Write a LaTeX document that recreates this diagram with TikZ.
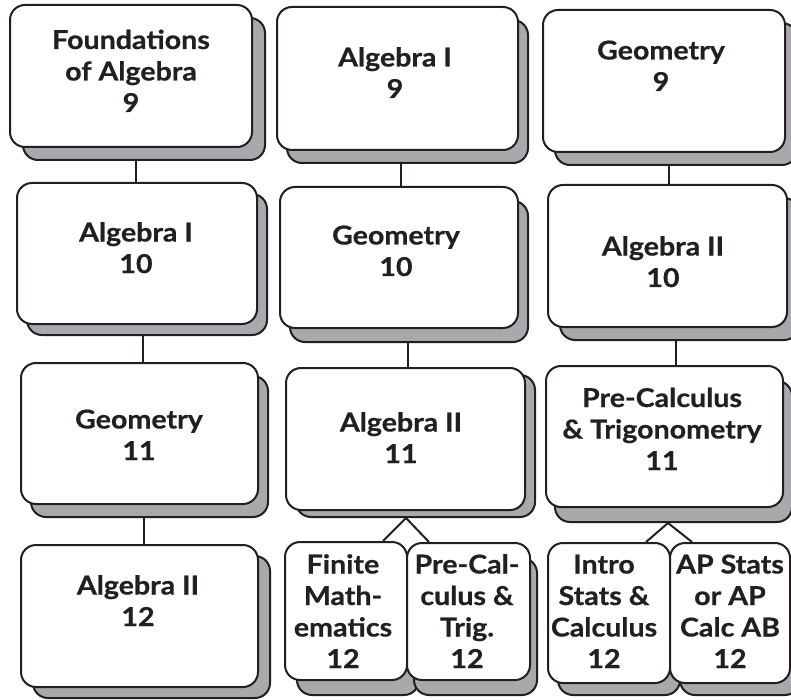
\documentclass[tikz,border=0pt]{standalone}
\usepackage{fontspec}
\setmainfont{Lato}[FakeStretch=1.1,BoldFeatures={FakeBold=0.6}]
\usetikzlibrary{calc}
\definecolor{ink}{HTML}{231F20}
\definecolor{shadowgray}{HTML}{A7A9AC}
\tikzset{
  front box/.style={draw=ink, line width=2pt, fill=white, rounded corners=15pt, inner sep=0pt},
  shade box/.style={draw=ink, line width=2pt, fill=shadowgray, rounded corners=15pt, inner sep=0pt},
  conn/.style={draw=ink, line width=2pt},
  lbl/.style={text=ink, font=\fontsize{26}{31.5}\selectfont\bfseries, align=center, anchor=base, inner sep=0pt},
}
\newcommand\crsbox[7]{% name x1 y1 x2 y2 dx dy
  \pgfmathsetmacro\cbw{#4-#2}\pgfmathsetmacro\cbh{#5-#3}%
  \pgfmathsetmacro\cbx{(#2+#4)/2}\pgfmathsetmacro\cby{(#3+#5)/2}%
  \node[shade box, minimum width=\cbw pt, minimum height=\cbh pt] (#1s) at ({\cbx+#6},{\cby+#7}) {};
  \node[front box, minimum width=\cbw pt, minimum height=\cbh pt] (#1) at (\cbx,\cby) {};
}
\begin{document}
\begin{tikzpicture}[x=1pt,y=-1pt]
\useasboundingbox (0,0) rectangle (791,700);
\fill[white] (0,0) rectangle (791,700);
\clip (0,0) rectangle (791,700);
% column 1
\crsbox{A}{10}{5}{252}{147}{13}{13}
\crsbox{B}{17}{183}{257}{324}{10}{11}
\crsbox{C}{21}{363}{258}{504}{10}{13}
\crsbox{D}{21}{545}{258}{687}{12}{11}
% column 2
\crsbox{E}{277}{7}{518}{150}{10}{13}
\crsbox{F}{280}{187}{518}{328}{10}{14}
\crsbox{G}{286}{368}{525}{510}{10}{7}
\crsbox{H}{285}{542}{407}{680}{12}{15}
\crsbox{I}{407}{543}{530}{680}{7}{15}
% column 3
\crsbox{J}{543}{10}{785}{152}{12}{13}
\crsbox{K}{548}{185}{787}{327}{12}{13}
\crsbox{L}{546}{366}{783}{507}{9}{15}
\crsbox{M}{548}{543}{670}{683}{10}{12}
\crsbox{N}{670}{543}{790}{683}{10}{12}
% labels (anchor = baseline of last line)
\node[lbl] (At) at (131,112) {Foundations\\of Algebra\\9};
\node[lbl] (Bt) at (136,273) {Algebra I\\10};
\node[lbl] (Ct) at (139,460) {Geometry\\11};
\node[lbl] (Dt) at (138,626) {Algebra II\\12};
\node[lbl] (Et) at (395,98) {Algebra I\\9};
\node[lbl] (Ft) at (396,276) {Geometry\\10};
\node[lbl] (Gt) at (401,463) {Algebra II\\11};
\node[lbl] (Ht) at (343,668) {Finite\\Math-\\ematics\\12};
\node[lbl] (It) at (467,668) {Pre-Cal-\\culus \&\\Trig.\\12};
\node[lbl] (Jt) at (661,91) {Geometry\\9};
\node[lbl] (Kt) at (663,287) {Algebra II\\10};
\node[lbl] (Lt) at (662,470) {Pre-Calculus\\\& Trigonometry\\11};
\node[lbl] (Mt) at (604,668) {Intro\\Stats \&\\Calculus\\12};
\node[lbl] (Nt) at (730,668) {AP Stats\\or AP\\Calc AB\\12};
% connectors
\draw[conn] ([xshift=-1pt]B.north |- As.south) -- ([xshift=-1pt]B.north);
\draw[conn] ([xshift=3.5pt]C.north |- Bs.south) -- ([xshift=3.5pt]C.north);
\draw[conn] ([xshift=4.5pt]D.north |- Cs.south) -- ([xshift=4.5pt]D.north);
\draw[conn] ([xshift=2pt]F.north |- Es.south) -- ([xshift=2pt]F.north);
\draw[conn] ([xshift=2.5pt]G.north |- Fs.south) -- ([xshift=2.5pt]G.north);
\draw[conn] ([xshift=1.5pt]K.north |- Js.south) -- ([xshift=1.5pt]K.north);
\draw[conn] ([xshift=11.5pt]L.north |- Ks.south) -- ([xshift=11.5pt]L.north);
\coordinate (fG) at ([xshift=-9.5pt]Gs.south);
\draw[conn] ([xshift=-25pt]H.north east) -- (fG) -- ([xshift=23pt]I.north west);
\coordinate (fL) at ([xshift=-5.5pt]Ls.south);
\draw[conn] ([xshift=-25pt]M.north east) -- (fL) -- ([xshift=23pt]N.north west);
\end{tikzpicture}
\end{document}
